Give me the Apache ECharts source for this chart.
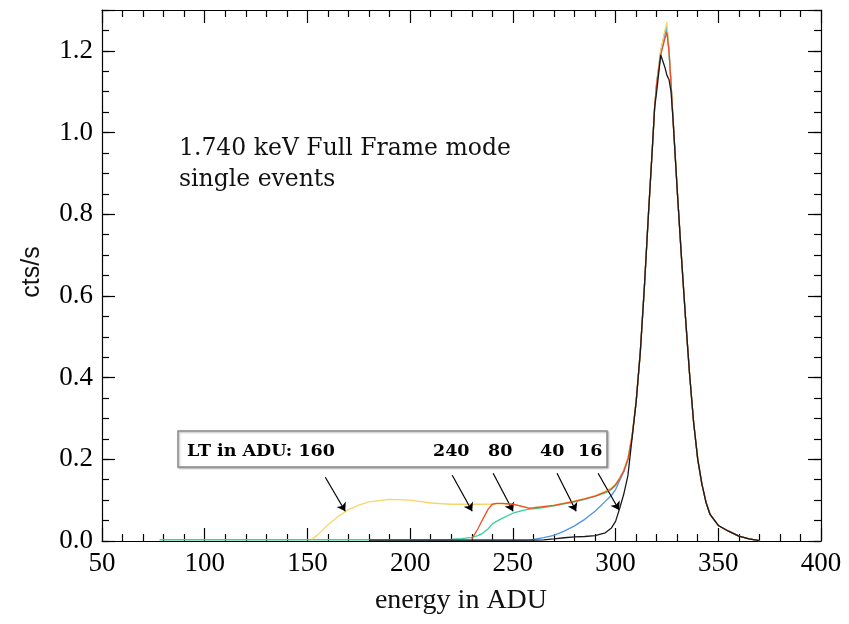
<!DOCTYPE html>
<html>
<head>
<meta charset="utf-8">
<script src="https://cdn.jsdelivr.net/npm/echarts/dist/echarts.min.js"></script>
<style>
  html, body { margin: 0; padding: 0; background: #fff; }
  #chart { width: 849px; height: 624px; }
</style>
</head>
<body>
<div id="chart"></div>
<script>
// energy grid (ADU) shared by all curves
var energy = [78, 90, 100, 110, 120, 130, 140, 150, 152, 155, 160, 165, 170, 175, 180,
  190, 200, 210, 220, 225, 230, 233, 235, 238, 240, 242, 245, 250,
  255, 258, 260, 265, 270, 275, 280, 285, 290, 295, 298, 300, 302, 304, 306, 308,
  310, 312, 314, 316, 318, 319, 320, 322, 324, 325, 326, 327, 328, 330, 332, 334,
  336, 338, 340, 342, 344, 346, 350, 355, 360, 365, 370];

// cts/s for each low threshold (LT in ADU)
var lt160 = [null, null, null, null, null, null, null, null,
  0.004, 0.015, 0.04, 0.06, 0.077, 0.088, 0.096,
  0.102, 0.1, 0.093, 0.09, 0.09, 0.09, 0.09, 0.09, 0.09, 0.09, 0.091, 0.091, 0.09,
  0.084, 0.081, 0.082, 0.085, 0.088, 0.093, 0.098, 0.104, 0.111, 0.122, 0.13, 0.14, 0.155, 0.175, 0.205, 0.26,
  0.34, 0.46, 0.62, 0.8, 0.97, 1.06, 1.12, 1.2, 1.25, 1.27, 1.2, 1.12, 1.03, 0.86, 0.7, 0.55,
  0.41, 0.29, 0.2, 0.14, 0.095, 0.065, 0.038, 0.024, 0.012, 0.005, 0.001];

var lt240 = [null, null, null, null, null, null, null, null, null, null, null, null, null, null, null,
  null, null, null, null, null, 0.005, 0.03, 0.05, 0.078, 0.09, 0.092, 0.092, 0.09,
  0.084, 0.08, 0.081, 0.084, 0.087, 0.092, 0.097, 0.103, 0.11, 0.12, 0.128, 0.138, 0.153, 0.172, 0.2, 0.255,
  0.34, 0.46, 0.62, 0.8, 0.97, 1.06, 1.12, 1.19, 1.23, 1.245, 1.2, 1.12, 1.03, 0.86, 0.7, 0.55,
  0.41, 0.29, 0.2, 0.14, 0.095, 0.065, 0.038, 0.024, 0.012, 0.005, 0.001];

var lt80 = [0.003, 0.003, 0.003, 0.003, 0.003, 0.003, 0.003, 0.003, 0.003, 0.003, 0.003, 0.003, 0.003, 0.003, 0.003,
  0.003, 0.003, 0.003, 0.004, 0.006, 0.009, 0.013, 0.018, 0.03, 0.042, 0.048, 0.056, 0.068,
  0.075, 0.078, 0.079, 0.082, 0.086, 0.091, 0.096, 0.102, 0.109, 0.118, 0.126, 0.136, 0.151, 0.17, 0.2, 0.255,
  0.34, 0.46, 0.62, 0.8, 0.97, 1.06, 1.12, 1.2, 1.245, 1.26, 1.2, 1.12, 1.03, 0.86, 0.7, 0.55,
  0.41, 0.29, 0.2, 0.14, 0.095, 0.065, 0.038, 0.024, 0.012, 0.005, 0.001];

var lt40 = [null, null, null, null, null, null, null, null, null, null, null, null, null, null, null,
  null, 0.002, 0.002, 0.002, 0.002, 0.002, 0.002, 0.002, 0.002, 0.002, 0.002, 0.002, 0.002,
  0.002, 0.003, 0.004, 0.008, 0.014, 0.024, 0.037, 0.053, 0.073, 0.097, 0.112, 0.126, 0.148, 0.17, 0.2, 0.255,
  0.34, 0.46, 0.62, 0.8, 0.97, 1.06, 1.12, 1.2, 1.24, 1.25, 1.2, 1.12, 1.03, 0.86, 0.7, 0.55,
  0.41, 0.29, 0.2, 0.14, 0.095, 0.065, 0.038, 0.024, 0.012, 0.005, 0.001];

var lt16 = [null, null, null, null, null, null, null, null, null, null, null, null, null, null, 0.002,
  0.002, 0.002, 0.002, 0.002, 0.002, 0.002, 0.002, 0.002, 0.002, 0.002, 0.002, 0.002, 0.002,
  0.002, 0.002, 0.002, 0.003, 0.005, 0.008, 0.01, 0.011, 0.013, 0.02, 0.032, 0.048, 0.08, 0.115, 0.16, 0.25,
  0.34, 0.46, 0.62, 0.8, 0.97, 1.06, 1.1, 1.19, 1.16, 1.14, 1.13, 1.1, 1.03, 0.86, 0.7, 0.55,
  0.41, 0.29, 0.2, 0.14, 0.095, 0.065, 0.038, 0.024, 0.012, 0.005, 0.001];

// threshold labels in the box and where their arrows point (data coords)
var ltLabels = ['LT in ADU: 160', '240', '80', '40', '16'];
var arrowFrom = [[158.7, 0.156], [220.5, 0.161], [240.4, 0.166], [271.5, 0.166], [291.5, 0.166]];
var arrowTo = [[168.4, 0.073], [230.2, 0.073], [250.1, 0.073], [280.8, 0.073], [301.7, 0.076]];

var xTicks = [50, 400, 50];
var yTicks = [0, 1.3, 0.2];

function pts(arr) {
  return energy.map(function (e, i) { return [e, arr[i]]; })
    .filter(function (p) { return p[1] !== null; });
}

var serif = 'Liberation Serif';
var axisLine = { show: true, onZero: false, lineStyle: { color: '#000', width: 1.2 } };

function xAx(pos, labels) {
  return {
    type: 'value', position: pos, min: xTicks[0], max: xTicks[1], interval: xTicks[2],
    axisLine: axisLine,
    axisTick: { show: true, inside: true, length: 13, lineStyle: { color: '#000', width: 1.2 } },
    minorTick: { show: true, splitNumber: 5, length: 7, lineStyle: { color: '#000', width: 1.2 } },
    splitLine: { show: false },
    axisLabel: { show: labels, color: '#000', fontFamily: serif, fontSize: 27, margin: 9 }
  };
}

function yAx(pos, interval, tickLen, labels, line) {
  return {
    type: 'value', position: pos, min: yTicks[0], max: yTicks[1], interval: interval,
    axisLine: line ? axisLine : { show: false },
    axisTick: { show: true, inside: true, length: tickLen, lineStyle: { color: '#000', width: 1.2 } },
    splitLine: { show: false },
    axisLabel: {
      show: labels, color: '#000', fontFamily: serif, fontSize: 27, margin: 9,
      formatter: function (v) { return v > 1.25 ? '' : v.toFixed(1); }
    }
  };
}

function curve(name, arr, color, z) {
  return {
    name: name, type: 'line', data: pts(arr), symbol: 'none', z: z,
    lineStyle: { color: color, width: 1.3 }, itemStyle: { color: color }
  };
}

var arrows = arrowFrom.map(function (a, i) {
  return [{ coord: a }, { coord: arrowTo[i] }];
});

var black = curve('16', lt16, '#1a1a1a', 6);
black.markLine = {
  silent: true, symbol: ['none', 'arrow'], symbolSize: 8,
  lineStyle: { color: '#000', width: 1.2, type: 'solid' },
  label: { show: false }, data: arrows
};

var textX = [187, 433, 488, 540, 578];
var graphics = [
  { type: 'rect', shape: { x: 178, y: 431, width: 429, height: 36 },
    style: { fill: '#fff', stroke: '#8c8c8c', lineWidth: 1.5, shadowBlur: 2, shadowColor: 'rgba(0,0,0,0.3)', shadowOffsetX: 1, shadowOffsetY: 1 }, z: 10 },
  { type: 'text', x: 179, y: 149, style: { text: '1.740 keV Full Frame mode', fill: '#111', font: '23.5px "DejaVu Serif"', verticalAlign: 'middle' }, z: 10 },
  { type: 'text', x: 179, y: 180, style: { text: 'single events', fill: '#111', font: '23.5px "DejaVu Serif"', verticalAlign: 'middle' }, z: 10 },
  { type: 'text', x: 32, y: 272, rotation: Math.PI / 2, style: { text: 'cts/s', fill: '#111', font: '25px "Liberation Sans"', align: 'center', verticalAlign: 'middle' }, z: 10 },
  { type: 'text', x: 461, y: 601, style: { text: 'energy in ADU', fill: '#111', font: '28px "Liberation Serif"', align: 'center', verticalAlign: 'middle' }, z: 10 }
];
ltLabels.forEach(function (t, i) {
  graphics.push({ type: 'text', x: textX[i], y: 451, z: 11,
    style: { text: t, fill: '#000', font: 'bold 17.5px "DejaVu Serif"', verticalAlign: 'middle' } });
});

var option = {
  animation: false,
  backgroundColor: '#fff',
  grid: { left: 102, right: 28, top: 10, bottom: 83 },
  xAxis: [xAx('bottom', true), xAx('top', false)],
  yAxis: [
    yAx('left', yTicks[2], 13, true, true),
    yAx('left', 0.05, 7, false, false),
    yAx('right', yTicks[2], 13, false, true),
    yAx('right', 0.05, 7, false, false)
  ],
  series: [
    curve('80', lt80, '#35d39a', 2),
    curve('40', lt40, '#4f93e6', 3),
    curve('160', lt160, '#f8d568', 4),
    curve('240', lt240, '#ea4f2c', 5),
    black
  ],
  graphic: graphics
};

var myChart = echarts.init(document.getElementById('chart'));
myChart.setOption(option, true);
</script>
</body>
</html>
